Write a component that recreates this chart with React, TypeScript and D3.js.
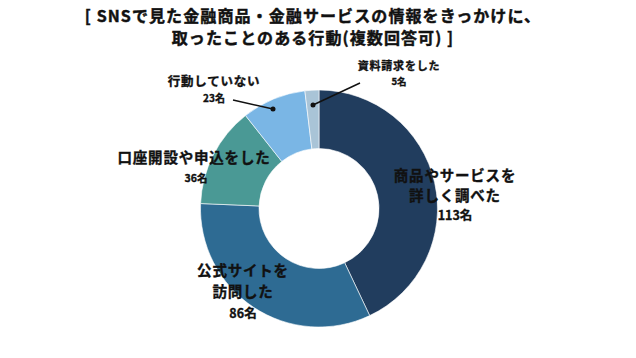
import React from "react";
import * as d3 from "d3";

const titleLines = [
  "[ SNSで見た金融商品・金融サービスの情報をきっかけに、",
  "取ったことのある行動(複数回答可) ]",
];
const categories = [
  "商品やサービスを詳しく調べた",
  "公式サイトを訪問した",
  "口座開設や申込をした",
  "行動していない",
  "資料請求をした",
];
const values = [113, 86, 36, 23, 5];
const colors = ["#213d5e", "#2e6b93", "#4a9995", "#7ab6e5", "#a9c4d7"];

// label layout (lines, position, font sizes)
const labels = [
  { lines: ["商品やサービスを", "詳しく調べた"], x: 455, y: 181, fs: 14.5, vfs: 12.5, gap: 19.5 },
  { lines: ["公式サイトを", "訪問した"], x: 243, y: 276, fs: 14.5, vfs: 12.5, gap: 21 },
  { lines: ["口座開設や申込をした"], x: 194, y: 163, fs: 14.5, vfs: 10.5, gap: 19 },
  { lines: ["行動していない"], x: 214, y: 86, fs: 12.5, vfs: 10, gap: 15.5 },
  { lines: ["資料請求をした"], x: 399, y: 70, fs: 11, vfs: 9.5, gap: 15 },
];
const leaders = [
  null, null, null,
  { from: [233, 100], to: [273, 109] },
  { from: [360, 83], to: [313, 105] },
];

const cx = 319;
const cy = 208.5;
const R = 118.5;
const r0 = 60;
const FONT = "'Noto Sans CJK JP', 'Noto Sans', sans-serif";

export default function App() {
  const pie = d3.pie<number>().sort(null).startAngle(0).endAngle(2 * Math.PI);
  const arcs = pie(values);
  const arc = d3.arc<d3.PieArcDatum<number>>().innerRadius(r0).outerRadius(R);
  return (
    <svg width={636} height={358} style={{ position: "absolute", left: 0, top: 0, background: "#fff" }}>
      <rect width={636} height={358} fill="#fff" />
      {titleLines.map((t, i) => (
        <text key={i} x={313} y={22 + i * 22} textAnchor="middle" fontFamily={FONT} fontWeight={700} fontSize={16} fill="#111" stroke="#111" strokeWidth={0.45} letterSpacing={1.1}>
          {t}
        </text>
      ))}
      <g transform={`translate(${cx},${cy})`}>
        {arcs.map((a, i) => (
          <path key={i} d={arc(a) || ""} fill={colors[i]} stroke="#fff" strokeWidth={0.6} />
        ))}
      </g>
      {leaders.map((l, i) =>
        l ? (
          <g key={i}>
            <line x1={l.from[0]} y1={l.from[1]} x2={l.to[0]} y2={l.to[1]} stroke="#111" strokeWidth={1.5} />
            <circle cx={l.to[0]} cy={l.to[1]} r={2.5} fill="#111" />
          </g>
        ) : null
      )}
      {labels.map((lb, i) => (
        <g key={i} fontFamily={FONT} fontWeight={700} fill="#111" stroke="#111" strokeWidth={0.35} textAnchor="middle">
          {lb.lines.map((ln, j) => (
            <text key={j} x={lb.x} y={lb.y + j * lb.gap} fontSize={lb.fs} letterSpacing={0.8}>
              {ln}
            </text>
          ))}
          <text x={lb.x + (i === 2 ? 2 : 0)} y={lb.y + lb.lines.length * lb.gap} fontSize={lb.vfs}>
            {values[i]}名
          </text>
        </g>
      ))}
    </svg>
  );
}
